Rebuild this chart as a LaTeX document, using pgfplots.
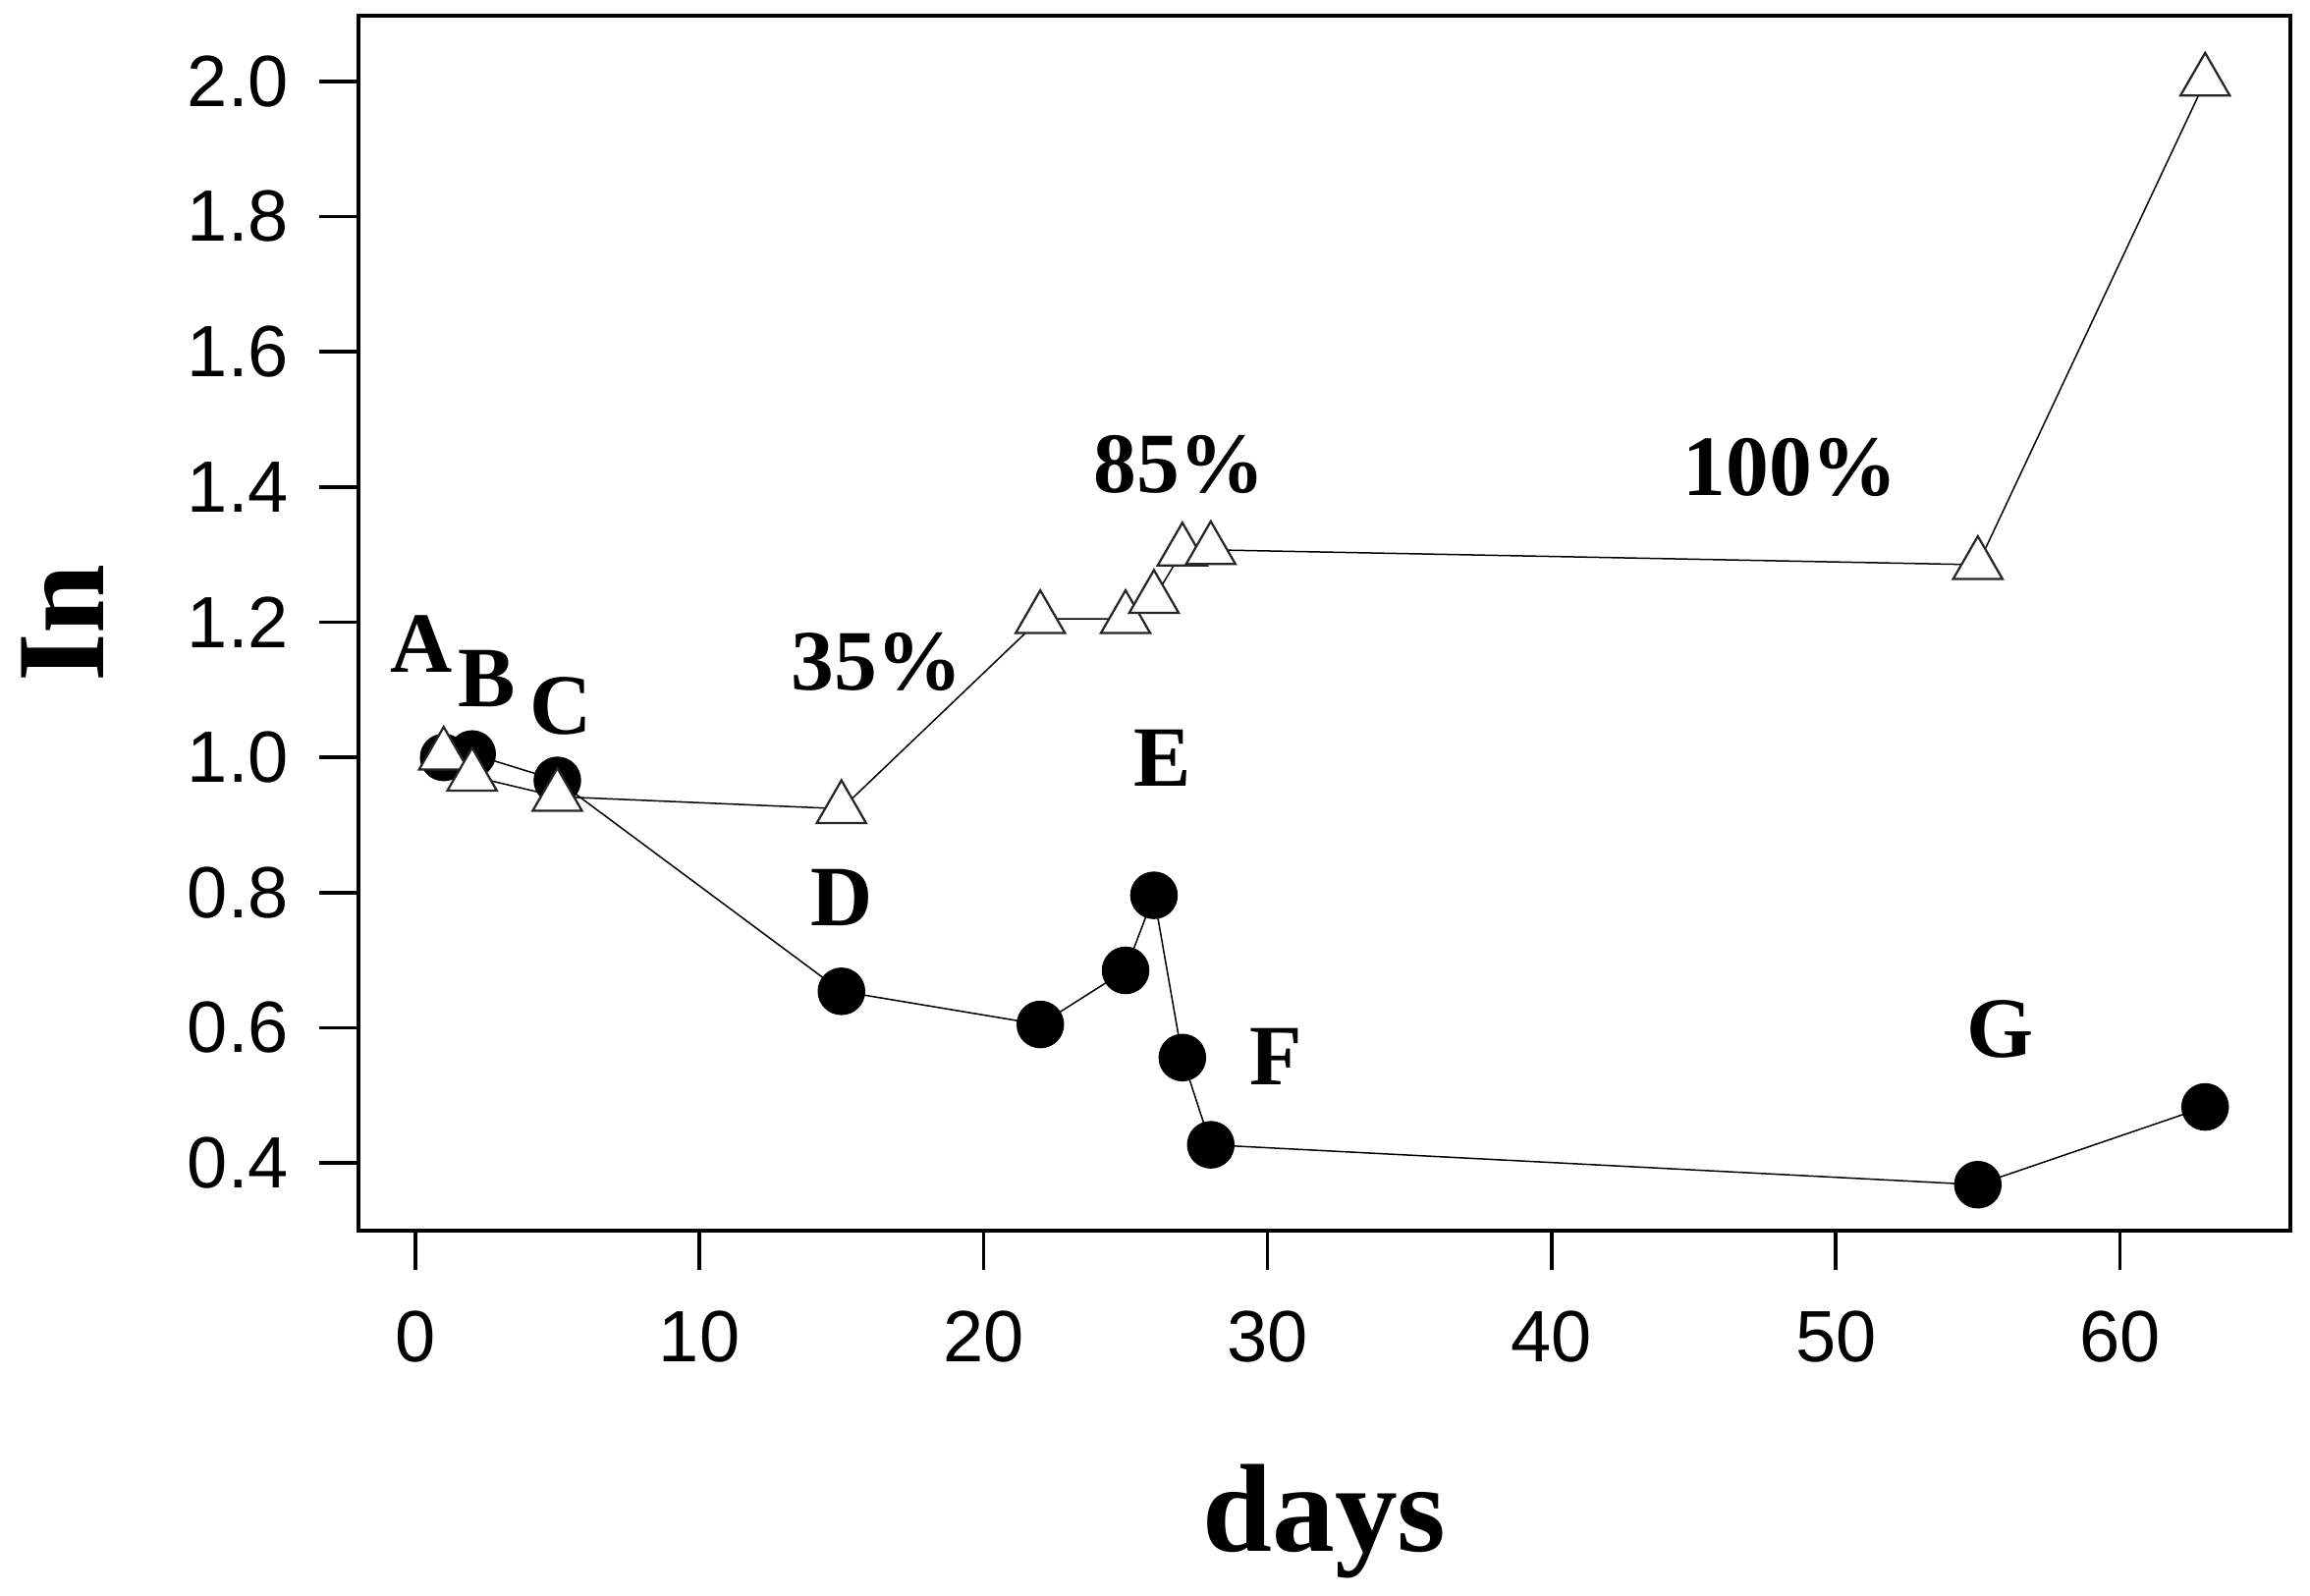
\documentclass[border=0pt]{standalone}
\usepackage{fontspec}
\setmainfont{Liberation Serif}
\newfontfamily\arial{Liberation Sans}
\usepackage{pgfplots}
\pgfplotsset{compat=1.18}
\begin{document}
\begin{tikzpicture}
\useasboundingbox (-73pt,-74.2pt) rectangle (397.4pt,250.6pt);
\begin{axis}[
  at={(0,0)}, anchor=south west,
  scale only axis, width=393.4pt, height=247.4pt,
  xmin=-2, xmax=66, ymin=0.3, ymax=2.097,
  xtick={0,10,...,60}, ytick={0.4,0.6,...,2.01},
  xtick pos=bottom, ytick pos=left,
  tick align=outside, major tick length=8pt,
  every tick/.style={black, line width=0.7pt},
  axis line style={line width=0.85pt},
  ticklabel style={font=\arial\fontsize{14.8}{16}\selectfont},
  /pgf/number format/assume math mode=true,
  yticklabel style={/pgf/number format/.cd, fixed, fixed zerofill, precision=1, /tikz/.cd, xshift=-2.7pt},
  xticklabel style={yshift=-4.9pt},
  xlabel={days}, ylabel={In},
  xlabel style={at={(axis description cs:0.5,-0.264)}, anchor=base, font=\bfseries\fontsize{25.5}{28}\selectfont},
  ylabel style={at={(axis description cs:-0.132,0.5)}, anchor=base, rotate=0, font=\bfseries\fontsize{25.5}{28}\selectfont},
  clip=false,
]
\addplot[black, line width=0.3pt, mark=*, mark size=4.7pt, mark options={fill=black, draw=black}] coordinates {
(1,1.000) (2,1.005) (5,0.966) (15,0.654) (22,0.605) (25,0.685) (26,0.796) (27,0.556) (28,0.427) (55,0.368) (63,0.483)
};
\addplot[black, line width=0.3pt, mark=triangle*, mark size=5.8pt, mark options={fill=white, draw=black!85, line width=0.45pt}] coordinates {
(1,1.003) (2,0.972) (5,0.942) (15,0.924) (22,1.205) (25,1.205) (26,1.235) (27,1.305) (28,1.307) (55,1.285) (63,2.000)
};
\begin{scope}[every node/.style={anchor=base, font=\bfseries\fontsize{17.5}{19}\selectfont, inner sep=0pt}]
\node at (axis cs:0.21,1.126) {A};
\node at (axis cs:2.53,1.075) {B};
\node at (axis cs:5.12,1.034) {C};
\node at (axis cs:16.25,1.100) {35\%};
\node at (axis cs:15.0,0.751) {D};
\node at (axis cs:26.9,1.392) {85\%};
\node at (axis cs:48.4,1.387) {100\%};
\node at (axis cs:26.3,0.957) {E};
\node at (axis cs:30.3,0.516) {F};
\node at (axis cs:55.8,0.557) {G};
\end{scope}
\end{axis}
\end{tikzpicture}
\end{document}
